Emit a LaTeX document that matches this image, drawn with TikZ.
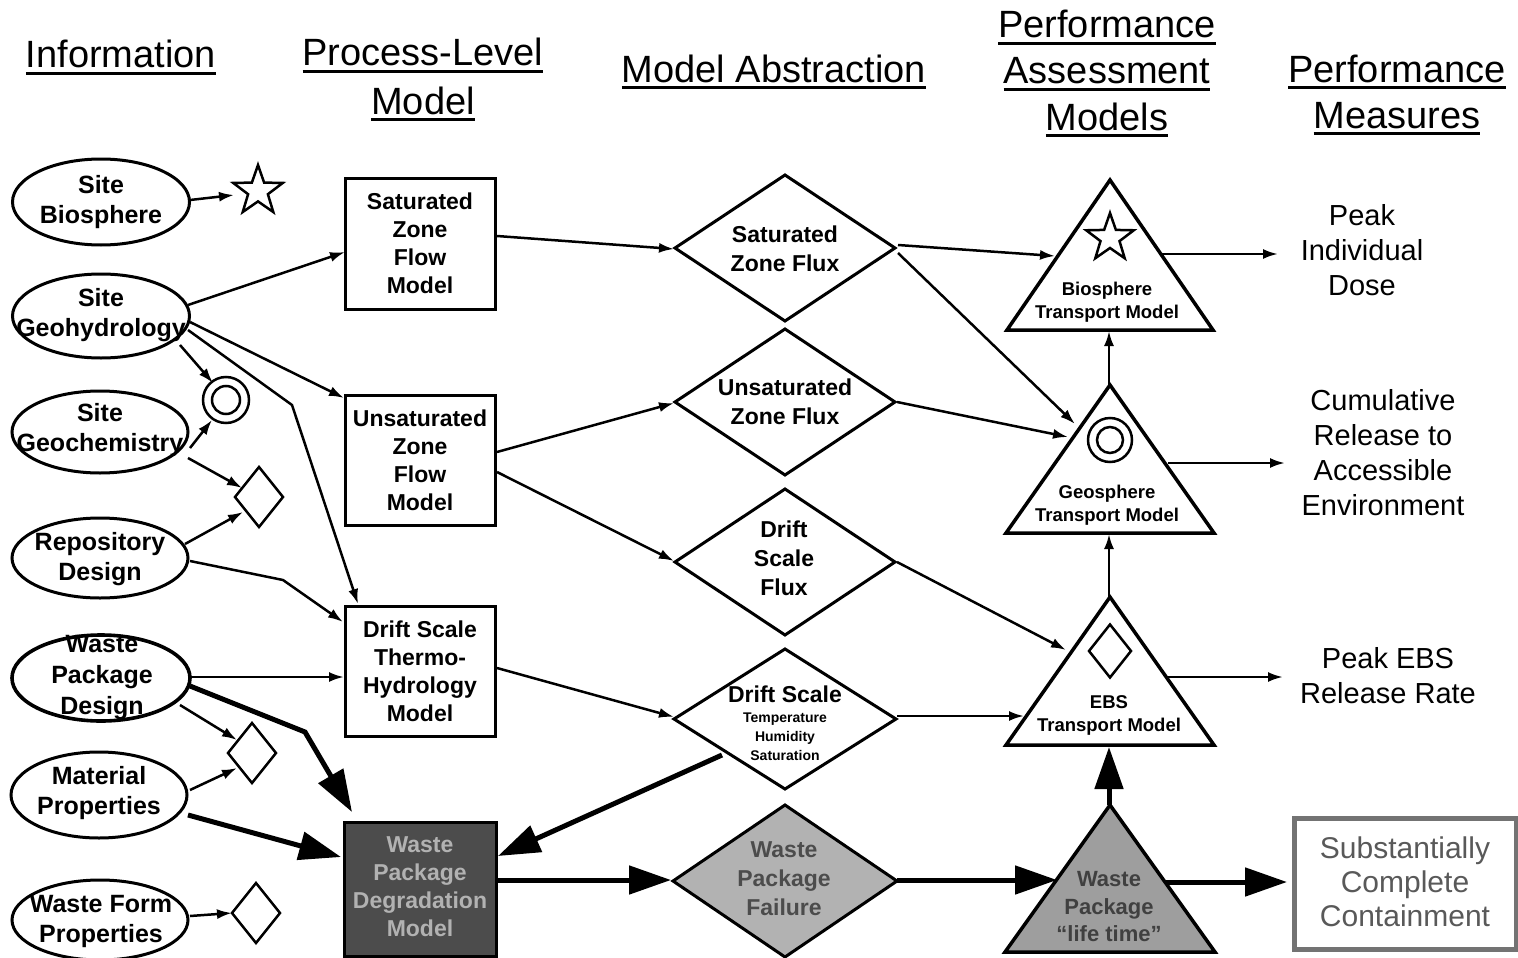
\documentclass[tikz,border=0pt]{standalone}
\usepackage{fontspec}
\setmainfont{Liberation Sans}
\usetikzlibrary{shapes.geometric,arrows.meta,calc}
\newcommand\hdu[1]{\setbox0\hbox{#1}\rlap{\rule[-7pt]{\wd0}{2.6pt}}\box0}
\begin{document}
\begin{tikzpicture}[x=1pt,y=-1pt,
  every node/.style={inner sep=0pt, outer sep=0pt},
  hd/.style={font=\fontsize{38}{46}\selectfont, anchor=base},
  ell/.style={ellipse, draw, line width=3pt},
  etxt/.style={font=\bfseries\fontsize{25}{30}\selectfont, align=center},
  pbox/.style={rectangle, draw, line width=3pt, minimum width=150pt, minimum height=130pt},
  btxt/.style={font=\bfseries\fontsize{23}{28}\selectfont, align=center},
  dia/.style={diamond, draw, line width=3pt, minimum width=220pt, minimum height=146pt},
  dtxt/.style={font=\bfseries\fontsize{23}{29}\selectfont, align=center},
  ttxt/.style={font=\bfseries\fontsize{18.5}{23}\selectfont, align=center},
  mtxt/.style={font=\fontsize{29}{35}\selectfont, align=center},
  symd/.style={diamond, draw, line width=2.5pt},
  arr/.style={line width=2.5pt, -{Latex[length=15pt,width=10pt]}},
  bigarr/.style={line width=5pt, -{Triangle[length=42pt,width=28pt]}},
  tri/.style={draw, line width=3.5pt}
]
\useasboundingbox (0,0) rectangle (1518,958);
\fill[white] (0,0) rectangle (1518,958);

% headers
\node[hd] (h1) at (121,68) {\hdu{Information}};
\node[hd] (h2a) at (423,66) {\hdu{Process-Level}};
\node[hd] (h2b) at (423,114) {\hdu{Model}};
\node[hd] (h3) at (774,82) {\hdu{Model Abstraction}};
\node[hd] (h4a) at (1107,38) {\hdu{Performance}};
\node[hd] (h4b) at (1107,84) {\hdu{Assessment}};
\node[hd] (h4c) at (1107,130) {\hdu{Models}};
\node[hd] (h5a) at (1397,82) {\hdu{Performance}};
\node[hd] (h5b) at (1397,128) {\hdu{Measures}};

% information ellipses
\node[ell, minimum width=177pt, minimum height=86pt] (sb) at (101,202) {};
\node[etxt] at (sb) {Site\\Biosphere};
\node[ell, minimum width=177pt, minimum height=84pt] (sgh) at (101,316) {};
\node[etxt] at (101,315) {Site\\Geohydrology};
\node[ell, minimum width=176pt, minimum height=82pt] (sgc) at (100,432) {};
\node[etxt] at (100,430) {Site\\Geochemistry};
\node[ell, minimum width=176pt, minimum height=80pt] (rd) at (100,558) {};
\node[etxt] at (100,559) {Repository\\Design};
\node[ell, line width=3.6pt, minimum width=178pt, minimum height=86pt] (wpd) at (101,678) {};
\node[etxt, font=\bfseries\fontsize{25}{31}\selectfont] at (102,678) {Waste\\Package\\Design};
\node[ell, minimum width=176pt, minimum height=86pt] (mp) at (99,795) {};
\node[etxt] at (99,793) {Material\\Properties};
\node[ell, minimum width=176pt, minimum height=80pt] (wfp) at (100,920) {};
\node[etxt] at (101,921) {Waste Form\\Properties};

% small symbols
\node[star, star points=5, star point ratio=2.5, draw, line width=2.5pt, minimum size=52pt] (st1) at (258,191) {};
\node[circle, draw, line width=2.5pt, minimum size=46pt] (dc1) at (226,400) {};
\draw[line width=2.5pt] (dc1) circle (14);
\node[symd, minimum width=48pt, minimum height=60pt] (dm1) at (259,497) {};
\node[symd, minimum width=48pt, minimum height=60pt] (dm2) at (252,753) {};
\node[symd, minimum width=48pt, minimum height=60pt] (dm3) at (256,913) {};

% process-level boxes
\node[pbox, minimum height=131pt] (szfm) at (420,243.5) {};
\node[btxt] at (szfm) {Saturated\\Zone\\Flow\\Model};
\node[pbox] (uzfm) at (420,460) {};
\node[btxt] at (uzfm) {Unsaturated\\Zone\\Flow\\Model};
\node[pbox] (dsth) at (420,671) {};
\node[btxt] at (dsth) {Drift Scale\\Thermo-\\Hydrology\\Model};
\node[pbox, fill=black!70, minimum width=152pt, minimum height=134pt] (wpdm) at (420,889) {};
\node[btxt, text=black!30] at (420,887) {Waste\\Package\\Degradation\\Model};

% model abstraction diamonds
\node[dia] (szf) at (785,248) {};
\node[dtxt] at (785,249) {Saturated\\Zone Flux};
\node[dia] (uzf) at (785,402) {};
\node[dtxt] at (785,402) {Unsaturated\\Zone Flux};
\node[dia] (dsf) at (785,562) {};
\node[dtxt] at (784,558) {Drift\\Scale\\Flux};
\node[dia, minimum width=222pt, minimum height=140pt] (dsd) at (785,719) {};
\node[font=\bfseries\fontsize{23}{28}\selectfont] at (785,694) {Drift Scale};
\node[font=\bfseries\fontsize{14}{19}\selectfont, align=center] at (785,737) {Temperature\\Humidity\\Saturation};
\node[dia, fill=black!30, minimum width=224pt, minimum height=152pt] (wpf) at (785,881) {};
\node[dtxt, text=black!70] at (784,879) {Waste\\Package\\Failure};

% performance assessment triangles
\coordinate (bioA) at (1110,180);
\coordinate (geoA) at (1110,385);
\coordinate (ebsA) at (1110,597);
\coordinate (ltA) at (1110,805);
\draw[tri] (bioA) -- ++(103,150) -- ++(-206,0) -- cycle;
\draw[tri] (geoA) -- ++(104,148) -- ++(-208,0) -- cycle;
\draw[tri] (ebsA) -- ++(104,148) -- ++(-208,0) -- cycle;
\draw[tri, fill=black!38] (ltA) -- ++(105,147) -- ++(-210,0) -- cycle;
\node[star, star points=5, star point ratio=2.5, draw, line width=2.5pt, minimum size=50pt] (st2) at (1110,238) {};
\node[circle, draw, line width=2.5pt, minimum size=44pt] (dc2) at (1110,440) {};
\draw[line width=2.5pt] (dc2) circle (13);
\node[symd, minimum width=42pt, minimum height=53pt] (dm4) at (1110,651) {};
\node[ttxt] (biot) at (1107,302) {Biosphere\\Transport Model};
\node[ttxt] (geot) at (1107,505) {Geosphere\\Transport Model};
\node[ttxt] (ebst) at (1109,715) {EBS\\Transport Model};
\node[font=\bfseries\fontsize{22}{27.5}\selectfont, align=center, text=black!75] (ltt) at (1109,907) {Waste\\Package\\``life time''};

% performance measures
\node[mtxt] (dose) at (1362,250) {Peak\\Individual\\Dose};
\node[mtxt] (cum) at (1383,453) {Cumulative\\Release to\\Accessible\\Environment};
\node[mtxt] (peak) at (1388,676) {Peak EBS\\Release Rate};
\node[rectangle, draw=black!55, line width=5pt, minimum width=222pt, minimum height=131pt] (scc) at (1405,883.5) {};
\node[font=\fontsize{30}{34}\selectfont, align=center, text=black!65] at (1405,882) {Substantially\\Complete\\Containment};

% connectors from information
\draw[arr] ($(sb)+(89,-2)$) -- ($(st1)+(-24,4)$);
\draw[arr] ($(sgh)+(87,-11)$) -- ($(szfm)+(-75,8.5)$);
\draw[arr] ($(sgh)+(89,6)$) -- ($(uzfm)+(-76,-62)$);
\draw[arr] ($(sgh)+(79,29)$) -- ($(dc1)+(-13,-17)$);
\draw[arr] ($(sgh)+(87,14)$) -- (292,405) -- ($(dsth)+(-62,-67)$);
\draw[arr] ($(sgc)+(90,16)$) -- ($(dc1)+(-14,20)$);
\draw[arr] ($(sgc)+(88,26)$) -- ($(dm1)+(-17,-9)$);
\draw[arr] ($(rd)+(85,-14)$) -- ($(dm1)+(-16,15)$);
\draw[arr] ($(rd)+(90,3)$) -- (283,580) -- ($(dsth)+(-77,-49)$);
\draw[arr] ($(wpd)+(89,-1)$) -- ($(dsth)+(-76,6)$);
\draw[arr] ($(wpd)+(79,27)$) -- ($(dm2)+(-15,-13)$);
\draw[bigarr] ($(wpd)+(89,8)$) -- (305,732) -- ($(wpdm)+(-68,-77)$);
\draw[arr] ($(mp)+(91,-5)$) -- ($(dm2)+(-15,15)$);
\draw[bigarr] ($(mp)+(89,20)$) -- ($(wpdm)+(-79,-32)$);
\draw[arr] ($(wfp)+(90,-4)$) -- ($(dm3)+(-24,0)$);

% process-level to abstraction
\draw[arr] ($(szfm)+(77,-7.5)$) -- ($(szf)+(-111,1)$);
\draw[arr] ($(uzfm)+(77,-8)$) -- ($(uzf)+(-111,1)$);
\draw[arr] ($(uzfm)+(77,12)$) -- ($(dsf)+(-111,-1)$);
\draw[arr] ($(dsth)+(77,-3)$) -- ($(dsd)+(-111,-2)$);
\draw[bigarr] ($(dsd)+(-63,36)$) -- ($(wpdm)+(78,-33)$);
\draw[bigarr] ($(wpdm)+(77,-9)$) -- ($(wpf)+(-114,-1)$);

% abstraction to PA models
\draw[arr] ($(szf)+(113,-3)$) -- ($(bioA)+(-55,76)$);
\draw[arr] ($(szf)+(113,5)$) -- ($(geoA)+(-35,39)$);
\draw[arr] ($(uzf)+(112,0)$) -- ($(geoA)+(-42,52)$);
\draw[arr] ($(dsf)+(112,0)$) -- ($(ebsA)+(-44,53)$);
\draw[arr] ($(dsd)+(112,-3)$) -- ($(ebsA)+(-86,119)$);
\draw[bigarr] ($(wpf)+(112,-1)$) -- ($(ltA)+(-53,75)$);

% between PA models
\draw[arr] ($(geoA)+(-1,0)$) -- ($(bioA)+(-1,151)$);
\draw[arr] ($(ebsA)+(-1,0)$) -- ($(geoA)+(-1,149)$);
\draw[bigarr] ($(ltA)+(-1,0)$) -- ($(ebsA)+(-1,150)$);

% PA models to measures
\draw[arr] ($(bioA)+(52,74)$) -- ($(dose)+(-84,4)$);
\draw[arr] ($(geoA)+(58,78)$) -- ($(cum)+(-98,10)$);
\draw[arr] ($(ebsA)+(56,80)$) -- ($(peak)+(-105,1)$);
\draw[bigarr] ($(ltA)+(56,77)$) -- ($(scc)+(-118,-1.5)$);
\end{tikzpicture}
\end{document}
